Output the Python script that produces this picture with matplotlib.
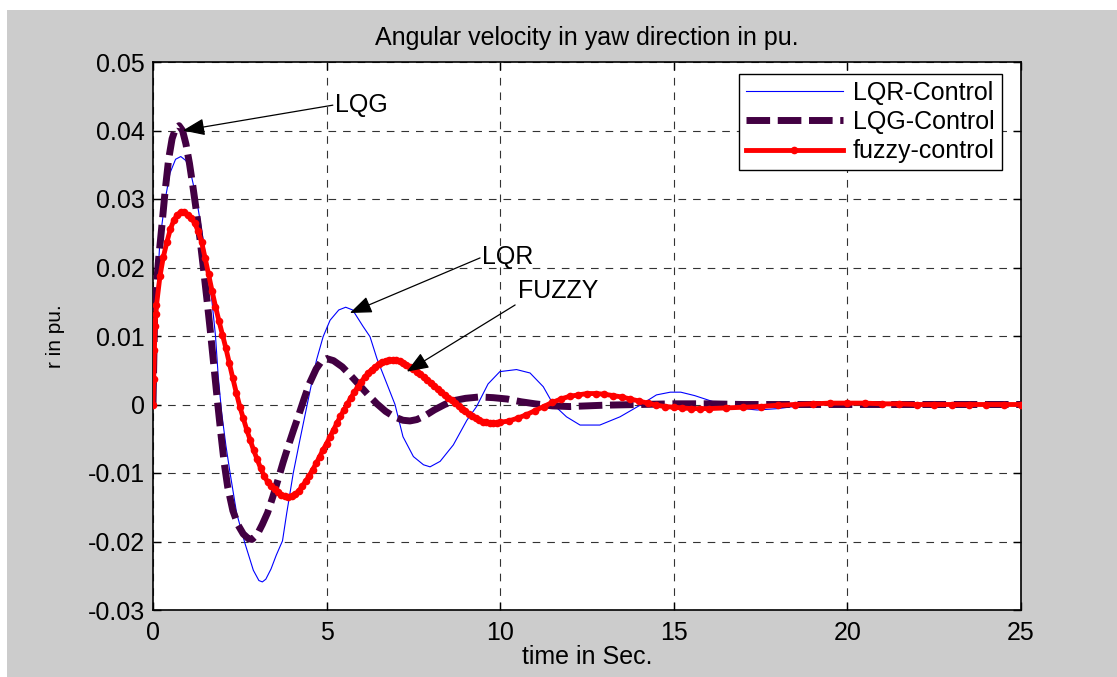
import numpy as np
import matplotlib
matplotlib.use("Agg")
import matplotlib.pyplot as plt
from matplotlib.patches import Rectangle

# ---------------- data ----------------
lqr_t = [0.0, 0.05, 0.1, 0.2, 0.35, 0.49, 0.65, 0.8, 0.95, 1.1, 1.25, 1.4, 1.55, 1.7, 1.8,
         1.88, 1.98, 2.1, 2.22, 2.41, 2.65, 2.89, 3.05, 3.15, 3.25, 3.4, 3.55, 3.73, 3.85,
         4.04, 4.23, 4.47, 4.71, 4.9, 5.1, 5.35, 5.55, 5.75, 6.05, 6.25, 6.45, 6.73, 6.97,
         7.2, 7.5, 7.79, 7.98, 8.27, 8.65, 9.04, 9.32, 9.65, 9.99, 10.47, 10.86, 11.24,
         11.53, 11.91, 12.3, 12.87, 13.45, 14.03, 14.5, 14.9, 15.2, 15.6, 16.2, 16.8, 17.4,
         18.0, 18.6, 19.2, 19.8, 20.4, 21.0, 21.6, 22.5, 23.5, 25.0]
lqr_v = [0.0, 0.009, 0.015, 0.024, 0.0299, 0.0338, 0.0358, 0.0362, 0.0356, 0.0335, 0.0301,
         0.0255, 0.0206, 0.015, 0.010, 0.004, -0.0013, -0.006, -0.010, -0.0159, -0.0203,
         -0.0242, -0.0257, -0.0259, -0.0255, -0.024, -0.022, -0.0199, -0.0159, -0.010,
         -0.0052, 0.0007, 0.0065, 0.0099, 0.0123, 0.0138, 0.0142, 0.0138, 0.0114, 0.0099,
         0.0067, 0.0031, 0.0, -0.0047, -0.0076, -0.0088, -0.0091, -0.0083, -0.0059, -0.0023,
         -0.0003, 0.003, 0.0048, 0.0051, 0.0046, 0.0026, 0.0, -0.0018, -0.003, -0.003,
         -0.0018, -0.0001, 0.0014, 0.0018, 0.0018, 0.0013, 0.0003, -0.0005, -0.0008, -0.0006,
         -0.0002, 0.0002, 0.0004, 0.0003, 0.0001, -0.0001, -0.0001, 0.0, 0.0]

lqg_t = [0.0, 0.05, 0.15, 0.25, 0.35, 0.45, 0.55, 0.65, 0.75, 0.85, 0.95, 1.05, 1.15, 1.25,
         1.35, 1.45, 1.55, 1.65, 1.75, 1.85, 1.95, 2.05, 2.15, 2.3, 2.45, 2.6, 2.75, 2.85,
         3.0, 3.15, 3.3, 3.45, 3.6, 3.75, 3.9, 4.05, 4.2, 4.35, 4.5, 4.7, 4.85, 5.0, 5.2,
         5.45, 5.7, 5.95, 6.2, 6.45, 6.7, 6.95, 7.2, 7.4, 7.6, 7.85, 8.1, 8.4, 8.7, 9.0,
         9.4, 9.8, 10.2, 10.6, 11.0, 11.5, 12.0, 12.5, 13.0, 14.0, 15.0, 16.0, 17.0, 18.0,
         20.0, 22.0, 25.0]
lqg_v = [0.0, 0.014, 0.0206, 0.0258, 0.0312, 0.0358, 0.0388, 0.0403, 0.0407, 0.040, 0.038,
         0.0352, 0.0318, 0.0282, 0.0243, 0.020, 0.0155, 0.0108, 0.0058, 0.0008, -0.004,
         -0.0085, -0.012, -0.0155, -0.0176, -0.0189, -0.0196, -0.0197, -0.019, -0.0175,
         -0.0158, -0.0135, -0.011, -0.0084, -0.006, -0.0037, -0.0015, 0.0008, 0.003, 0.0052,
         0.0063, 0.0067, 0.0064, 0.0055, 0.0042, 0.0028, 0.0014, 0.0001, -0.001, -0.0018,
         -0.0023, -0.0024, -0.0022, -0.0016, -0.0008, 0.0, 0.0006, 0.0009, 0.0011, 0.001,
         0.0008, 0.0004, 0.0001, -0.0002, -0.0003, -0.0002, -0.0001, 0.0, 0.0001, 0.0001,
         0.0, 0.0, 0.0, 0.0, 0.0]

fuzzy_t = [0.0, 0.02, 0.04, 0.06, 0.08,
           0.1, 0.2, 0.3, 0.4, 0.5, 0.6, 0.7, 0.8, 0.9, 1.0,
           1.1, 1.2, 1.3, 1.4, 1.5, 1.6, 1.7, 1.8, 1.9, 2.0,
           2.1, 2.2, 2.3, 2.4, 2.5, 2.6, 2.7, 2.8, 2.9, 3.0,
           3.1, 3.2, 3.3, 3.4, 3.5, 3.6, 3.7, 3.8, 3.9, 4.0,
           4.1, 4.2, 4.3, 4.4, 4.5, 4.6, 4.7, 4.8, 4.9, 5.0,
           5.1, 5.2, 5.3, 5.4, 5.5, 5.6, 5.7, 5.8, 5.9, 6.0,
           6.1, 6.2, 6.3, 6.4, 6.5, 6.6, 6.7, 6.8, 6.9, 7.0,
           7.1, 7.2, 7.3, 7.4, 7.5, 7.6, 7.7, 7.8, 7.9, 8.0,
           8.1, 8.2, 8.3, 8.4, 8.5, 8.6, 8.7, 8.8, 8.9, 9.0,
           9.1, 9.2, 9.3, 9.4, 9.5, 9.6, 9.7, 9.8, 9.9, 10.0,
           10.25, 10.5, 10.75, 11.0, 11.25, 11.5, 11.75, 12.0, 12.25, 12.5,
           12.75, 13.0, 13.25, 13.5, 13.75, 14.0, 14.25, 14.5, 14.75, 15.0,
           15.25, 15.5, 15.75, 16.0, 16.5, 17.0, 17.5, 18.0, 18.5, 19.0,
           19.5, 20.0, 20.5, 21.0, 21.5, 22.0, 22.5, 23.0, 23.5, 24.0, 24.5, 25.0]
fuzzy_v = [0.0, 0.0037, 0.008, 0.0114, 0.0132,
           0.0145, 0.0187, 0.0216, 0.0237, 0.0256, 0.0269, 0.0277, 0.0281, 0.0281, 0.0277,
           0.0272, 0.0265, 0.0253, 0.0237, 0.0214, 0.019, 0.0166, 0.0143, 0.0122, 0.0102,
           0.0082, 0.006, 0.0038, 0.0017, -0.0003, -0.002, -0.0037, -0.0052, -0.0067, -0.008,
           -0.0093, -0.0104, -0.0113, -0.0119, -0.0124, -0.0128, -0.0132, -0.0134, -0.0135, -0.0134,
           -0.0131, -0.0126, -0.0119, -0.0112, -0.0104, -0.0095, -0.0086, -0.0076, -0.0066, -0.0057,
           -0.0047, -0.0037, -0.0027, -0.0017, -0.0008, 0.0001, 0.001, 0.0018, 0.0026, 0.0033,
           0.004, 0.0046, 0.0051, 0.0055, 0.0059, 0.0062, 0.0064, 0.0065, 0.0065, 0.0065,
           0.0063, 0.0061, 0.0058, 0.0055, 0.0052, 0.0048, 0.0044, 0.004, 0.0036, 0.0032,
           0.0027, 0.0023, 0.0018, 0.0014, 0.001, 0.0006, 0.0002, -0.0002, -0.0006, -0.001,
           -0.0014, -0.0017, -0.002, -0.0023, -0.0025, -0.0026, -0.0027, -0.0027, -0.0027, -0.0026,
           -0.0024, -0.002, -0.0015, -0.0009, -0.0003, 0.0003, 0.0008, 0.0012, 0.0014, 0.0016,
           0.0016, 0.0015, 0.0013, 0.0011, 0.0008, 0.0005, 0.0002, -0.0001, -0.0003, -0.0004,
           -0.0005, -0.0006, -0.0006, -0.0006, -0.0005, -0.0004, -0.0003, -0.0001, 0.0, 0.0001,
           0.0002, 0.0002, 0.0002, 0.0001, 0.0001, 0.0, 0.0, 0.0, 0.0, 0.0, 0.0, 0.0]

series_labels = ["LQR-Control", "LQG-Control", "fuzzy-control"]
x_ticks = [0, 5, 10, 15, 20, 25]
x_ticklabels = ["0", "5", "10", "15", "20", "25"]
y_ticks = [-0.03, -0.02, -0.01, 0.0, 0.01, 0.02, 0.03, 0.04, 0.05]
y_ticklabels = ["-0.03", "-0.02", "-0.01", "0", "0.01", "0.02", "0.03", "0.04", "0.05"]

# annotations: (label, text position, arrow tail, arrow tip) in data units
ann_labels = ["LQG", "LQR", "FUZZY"]
ann_text_xy = [(5.24, 0.0437), (9.48, 0.0216), (10.52, 0.0165)]
ann_tail_xy = [(5.18, 0.0437), (9.42, 0.0214), (10.43, 0.01453)]
ann_tip_xy = [(0.86, 0.0400), (5.67, 0.01336), (7.31, 0.0048)]

# ---------------- drawing ----------------
plt.rcParams['font.family'] = ['Liberation Sans', 'DejaVu Sans']
plt.rcParams['lines.scale_dashes'] = False

W, H = 1117, 677
FS = 18
fig = plt.figure(figsize=(W / 100, H / 100), dpi=100, facecolor='white')
fig.patches.append(Rectangle((7 / W, 0), 1, (H - 10) / H, transform=fig.transFigure,
                             facecolor='#cccccc', edgecolor='none', zorder=-10))

ax = fig.add_axes([153 / W, (H - 610) / H, (1021 - 153) / W, (610 - 62) / H])
ax.set_facecolor('white')

ax.plot(lqr_t, lqr_v, color='#0000ff', linewidth=0.8, label=series_labels[0], zorder=3)
ax.plot(lqg_t, lqg_v, color='#420042', linewidth=5.0, dashes=(17, 5.5),
        dash_capstyle='butt', label=series_labels[1], zorder=4)
ax.plot(fuzzy_t, fuzzy_v, color='#ff0000', linewidth=3.5, marker='o', markersize=5.5,
        markeredgewidth=0, label=series_labels[2], zorder=5)

ax.set_xlim(0, 25)
ax.set_ylim(-0.03, 0.05)
ax.set_xticks(x_ticks)
ax.set_xticklabels(x_ticklabels)
ax.set_yticks(y_ticks)
ax.set_yticklabels(y_ticklabels)
ax.tick_params(direction='in', length=6, width=1.0, top=True, right=True,
               labelsize=FS, color='black')
ax.tick_params(axis='x', pad=8)
ax.tick_params(axis='y', pad=6)
ax.grid(True, color='0.2', linestyle=(0, (5.5, 5)), linewidth=0.8)
ax.set_axisbelow(True)
for sp in ax.spines.values():
    sp.set_linewidth(1.2)
    sp.set_color('black')

fig.text(587 / W, 1 - 38 / H, "Angular velocity in yaw direction in pu.",
         ha='center', va='center', fontsize=FS)
ax.set_xlabel("time in Sec.", fontsize=FS, labelpad=0)
ax.set_ylabel("r in pu.", fontsize=15, labelpad=16)

for lab, txy, tail, tip in zip(ann_labels, ann_text_xy, ann_tail_xy, ann_tip_xy):
    ax.annotate('', xy=tip, xytext=tail,
                arrowprops=dict(arrowstyle='-|>,head_length=0.9,head_width=0.35',
                                color='black', lw=0.9, shrinkA=0, shrinkB=0,
                                mutation_scale=15), zorder=6)
    ax.text(txy[0], txy[1], lab, ha='left', va='center', fontsize=FS, zorder=6)

leg = ax.legend(loc='upper right', bbox_to_anchor=((1001.7 - 153) / 868, (610 - 74) / 548),
                borderaxespad=0, fontsize=FS, frameon=True, fancybox=False,
                framealpha=1, edgecolor='black', handlelength=3.9, handletextpad=0.4,
                labelspacing=0.21, borderpad=0.27)
leg.get_frame().set_linewidth(1.0)

fig.savefig("out.png", dpi=100, facecolor=fig.get_facecolor())
